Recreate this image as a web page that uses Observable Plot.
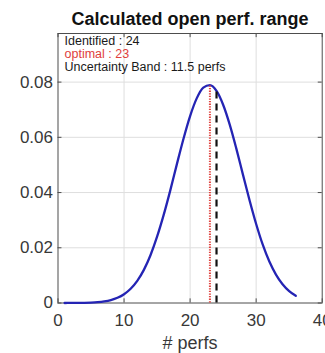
<!DOCTYPE html>
<html><head><meta charset="utf-8">
<script src="https://cdn.jsdelivr.net/npm/d3@7"></script>
<script src="https://cdn.jsdelivr.net/npm/@observablehq/plot@0.6"></script>
<style>body{margin:0;background:#fff} svg{display:block}</style>
</head><body><div id="chart"></div>
<script>
const perfs = [1,2,3,4,5,6,7,8,9,10,11,12,13,14,15,16,17,18,19,20,21,22,23,24,25,26,27,28,29,30,31,32,33,34,35,36];
const prob = [0.000007,0.000016,0.000036,0.000077,0.00016,0.00031,0.00059,0.00108,0.00189,0.00318,0.00515,0.00802,0.0120,0.0173,0.0240,0.0319,0.0408,0.0503,0.0595,0.0677,0.0741,0.0780,0.0789,0.0768,0.0718,0.0646,0.0559,0.0465,0.0372,0.0286,0.0211,0.0150,0.0103,0.0068,0.0043,0.0026];
const identified = 24;
const optimal = 23;
const uncertaintyBand = 11.5;
const xTicks = [0,10,20,30,40];
const yTicks = [0,0.02,0.04,0.06,0.08];
const title = "Calculated open perf. range";
const xLabel = "# perfs";
const notes = ["Identified : " + identified, "optimal : " + optimal, "Uncertainty Band : " + uncertaintyBand + " perfs"];
const noteColors = ["#1a1a1a", "#e0403c", "#1a1a1a"];

const curve = perfs.map((p, i) => ({p, v: prob[i]}));
const valAt = x => prob[perfs.indexOf(x)];
const yMax = 0.0976;
const font = "Liberation Sans, Arial, sans-serif";
const axisColor = "#4d4d4d";

const noteMarks = notes.map((t, i) =>
  Plot.text([t], {frameAnchor: "top-left", text: d => d, dx: 6.5, dy: [2.5, 15.5, 29][i],
    fill: noteColors[i], fontSize: 12.5, textAnchor: "start", lineAnchor: "top"}));

const chart = Plot.plot({
  width: 325, height: 353,
  marginLeft: 57.5, marginRight: 3.3, marginTop: 33, marginBottom: 50.5,
  style: {fontFamily: font, background: "#fff"},
  x: {domain: [0, 40], ticks: xTicks},
  y: {domain: [0, yMax], ticks: yTicks},
  marks: [
    Plot.gridX(xTicks.slice(1, -1), {stroke: "#dedede", strokeOpacity: 1}),
    Plot.gridY(yTicks.slice(1), {stroke: "#dedede", strokeOpacity: 1}),
    Plot.axisX(xTicks, {tickSize: 0, tickPadding: 11, fontSize: 17, fill: "#383838", label: null}),
    Plot.axisY(yTicks, {tickSize: 0, tickPadding: 5, fontSize: 17, fill: "#383838", label: null,
      tickFormat: d => d === 0 ? "0" : d.toFixed(2)}),
    Plot.ruleX(xTicks, {y1: 0, y2: 0.0015, stroke: axisColor}),
    Plot.ruleX(xTicks, {y1: yMax, y2: yMax - 0.0015, stroke: axisColor}),
    Plot.ruleY(yTicks, {x1: 0, x2: 0.6, stroke: axisColor}),
    Plot.ruleY(yTicks, {x1: 40, x2: 39.4, stroke: axisColor}),
    Plot.frame({stroke: axisColor}),
    Plot.line(curve, {x: "p", y: "v", stroke: "#2424b4", strokeWidth: 2.3, curve: "monotone-x"}),
    Plot.ruleX([optimal], {y1: 0, y2: valAt(optimal), stroke: "#e0403c", strokeWidth: 2, strokeDasharray: "1.3,1.3"}),
    Plot.ruleX([identified], {y1: 0, y2: valAt(identified), stroke: "#111", strokeWidth: 2.2, strokeDasharray: "7,5"}),
    ...noteMarks,
    Plot.text([title], {frameAnchor: "top", text: d => d, dy: -21.3, fontSize: 18, fontWeight: "bold", fill: "#111", lineAnchor: "top"}),
    Plot.text([xLabel], {frameAnchor: "bottom", text: d => d, dy: 33.5, fontSize: 18, fill: "#383838", lineAnchor: "top"})
  ]
});
document.getElementById("chart").append(chart);
</script></body></html>
